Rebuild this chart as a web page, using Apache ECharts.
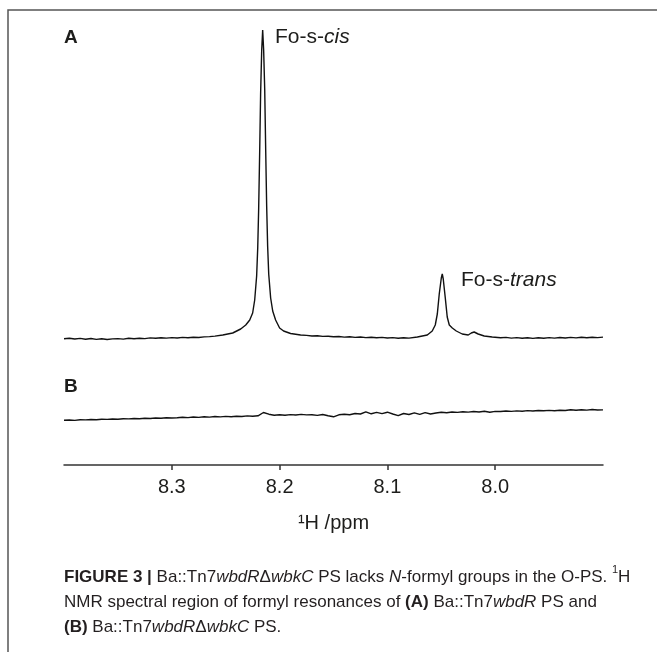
<!DOCTYPE html>
<html>
<head>
<meta charset="utf-8">
<script src="https://cdn.jsdelivr.net/npm/echarts@6/dist/echarts.min.js"></script>
<style>
  html, body { margin: 0; padding: 0; background: #fff; }
  #nmrChart { width: 657px; height: 652px; }
</style>
</head>
<body>
<div id="nmrChart"></div>
<script>
// tick labels of the ppm axis
var ppmTicks = [8.4, 8.3, 8.2, 8.1, 8.0, 7.9];

// spectrum A (Ba::Tn7wbdR PS): [ppm, intensity]
var spectrumA = [
  [8.400, -0.8], [8.395, -0.2], [8.390, -1.0], [8.385, -0.4], [8.380, -1.2],
  [8.375, -0.5], [8.370, -1.4], [8.365, -0.8], [8.360, -1.5], [8.355, -0.9],
  [8.350, -0.6], [8.345, -1.1], [8.340, -0.3], [8.335, -0.8], [8.330, -0.2],
  [8.325, -0.6], [8.320, 0.1], [8.315, -0.3], [8.310, 0.3], [8.305, -0.1],
  [8.300, 0.4], [8.295, 0.0], [8.290, 0.6], [8.285, 0.2], [8.280, 0.8],
  [8.275, 0.5], [8.270, 1.1], [8.265, 1.4], [8.260, 1.9],
  // Fo-s-cis
  [8.2527, 3], [8.2435, 5], [8.2361, 9], [8.2314, 13], [8.2277, 18],
  [8.2250, 25], [8.2231, 38], [8.2213, 62], [8.2203, 90], [8.2194, 130],
  [8.2185, 185], [8.2176, 245], [8.2166, 288], [8.2157, 308], [8.2148, 288],
  [8.2138, 248], [8.2129, 188], [8.2120, 132], [8.2111, 92], [8.2101, 64],
  [8.2083, 40], [8.2064, 27], [8.2037, 18], [8.2000, 10], [8.1963, 7],
  [8.1898, 4.5], [8.1805, 3],
  [8.175, 2.6], [8.170, 2.0], [8.165, 2.3], [8.160, 1.6], [8.155, 1.8],
  [8.150, 1.2], [8.145, 1.5], [8.140, 0.9], [8.135, 1.2], [8.130, 0.6],
  [8.125, 1.0], [8.120, 0.4], [8.115, 0.8], [8.110, 0.2], [8.105, 0.6],
  [8.100, 0.0], [8.095, 0.4], [8.090, -0.2], [8.085, 0.3], [8.080, -0.1],
  // Fo-s-trans
  [8.0722, 1], [8.0630, 3], [8.0584, 7], [8.0556, 13], [8.0537, 24],
  [8.0519, 44], [8.0500, 60], [8.0491, 64], [8.0482, 59], [8.0463, 40],
  [8.0445, 21], [8.0426, 13], [8.0398, 10], [8.0361, 7], [8.0306, 4],
  [8.0250, 3], [8.0222, 5], [8.0195, 6], [8.0158, 4], [8.0102, 2],
  [8.0028, 1],
  [7.995, 0.2], [7.990, 0.6], [7.985, -0.1], [7.980, 0.4], [7.975, -0.3],
  [7.970, 0.2], [7.965, -0.4], [7.960, 0.3], [7.955, -0.2], [7.950, 0.4],
  [7.945, -0.1], [7.940, 0.5], [7.935, 0.0], [7.930, 0.6], [7.925, 0.1],
  [7.920, 0.7], [7.915, 0.2], [7.910, 0.8], [7.905, 0.4], [7.900, 0.9]
];

// spectrum B (Ba::Tn7wbdRΔwbkC PS): [ppm, intensity]
var spectrumB = [
  [8.400, -5.2], [8.395, -5.0], [8.390, -5.4], [8.385, -4.8], [8.380, -4.9],
  [8.375, -4.5], [8.370, -4.7], [8.365, -4.2], [8.360, -4.4], [8.355, -4.0],
  [8.350, -4.3], [8.345, -3.8], [8.340, -3.9], [8.335, -3.5], [8.330, -3.7],
  [8.325, -3.2], [8.320, -3.5], [8.315, -3.0], [8.310, -3.3], [8.305, -2.8],
  [8.300, -3.0], [8.295, -2.7], [8.290, -2.2], [8.285, -2.6], [8.280, -2.0],
  [8.275, -2.4], [8.270, -1.8], [8.265, -2.1], [8.260, -1.5], [8.255, -1.9],
  [8.250, -1.4], [8.245, -1.7], [8.240, -1.2], [8.235, -1.5], [8.230, -0.9],
  [8.225, -1.3], [8.220, -0.8], [8.215, 2.5], [8.210, 0.8], [8.205, -0.2],
  [8.200, 0.3], [8.195, -0.3], [8.190, 0.4], [8.185, 0.0], [8.180, 0.6],
  [8.175, 0.1], [8.170, 0.3], [8.165, -0.4], [8.160, 0.5], [8.155, -0.8],
  [8.150, -1.8], [8.145, 0.2], [8.140, 0.8], [8.135, 0.3], [8.130, 1.5],
  [8.125, 1.0], [8.120, 3.2], [8.115, 1.2], [8.110, 2.6], [8.105, 1.4],
  [8.100, 2.8], [8.095, 1.0], [8.090, -0.6], [8.085, 1.5], [8.080, 0.5],
  [8.075, 2.2], [8.070, 0.6], [8.065, 2.4], [8.060, 1.0], [8.055, 2.0],
  [8.050, 2.8], [8.045, 2.2], [8.040, 3.0], [8.035, 2.6], [8.030, 3.2],
  [8.025, 2.9], [8.020, 3.5], [8.015, 3.0], [8.010, 3.8], [8.005, 2.8],
  [8.000, 3.6], [7.995, 3.5], [7.990, 4.0], [7.985, 3.6], [7.980, 4.1],
  [7.975, 3.8], [7.970, 4.4], [7.965, 4.0], [7.960, 4.5], [7.955, 4.2],
  [7.950, 4.6], [7.945, 4.3], [7.940, 4.8], [7.935, 4.5], [7.930, 5.2],
  [7.925, 4.7], [7.920, 5.3], [7.915, 4.9], [7.910, 5.5], [7.905, 5.0],
  [7.900, 5.1]
];

var peakLabels = ['Fo-s-', 'cis', 'trans'];

var FONT = '"Liberation Sans", Arial, sans-serif';
var INK = '#1d1d1b';

var chart = echarts.init(document.getElementById('nmrChart'));

var xBase = {
  type: 'value',
  min: ppmTicks[ppmTicks.length - 1],
  max: ppmTicks[0],
  interval: 0.1,
  inverse: true,
  splitLine: { show: false }
};

var peakRich = {
  n: { fontSize: 21, fontFamily: FONT, fill: INK },
  i: { fontSize: 21, fontFamily: FONT, fontStyle: 'italic', fill: INK }
};

chart.setOption({
  backgroundColor: '#fff',
  animation: false,
  grid: [
    { left: 64, right: 54, top: 18, height: 330 },
    { left: 64, right: 54, top: 380, height: 85 }
  ],
  xAxis: [
    Object.assign({}, xBase, { gridIndex: 0, show: false }),
    Object.assign({}, xBase, {
      gridIndex: 1,
      axisLine: { onZero: false, lineStyle: { color: '#333', width: 1.5 } },
      axisTick: { length: 5, lineStyle: { color: '#333', width: 1.5 } },
      axisLabel: {
        fontSize: 20, fontFamily: FONT, color: INK, margin: 12,
        showMinLabel: false, showMaxLabel: false,
        formatter: function (v) { return v.toFixed(1); }
      },
      name: '\u00B9H /ppm',
      nameLocation: 'middle',
      nameGap: 48,
      nameTextStyle: { fontSize: 20, fontFamily: FONT, color: INK }
    })
  ],
  yAxis: [
    { type: 'value', gridIndex: 0, min: -10, max: 320, show: false, splitLine: { show: false } },
    { type: 'value', gridIndex: 1, min: -50, max: 35, show: false, splitLine: { show: false } }
  ],
  series: [
    {
      name: 'A', type: 'line', xAxisIndex: 0, yAxisIndex: 0,
      data: spectrumA, showSymbol: false, symbol: 'none', clip: false,
      lineStyle: { color: '#111', width: 1.4 }
    },
    {
      name: 'B', type: 'line', xAxisIndex: 1, yAxisIndex: 1,
      data: spectrumB, showSymbol: false, symbol: 'none', clip: false,
      lineStyle: { color: '#111', width: 1.4 }
    }
  ],
  graphic: [
    // figure frame
    {
      type: 'polyline', silent: true,
      shape: { points: [[8, 652], [8, 10], [657, 10]] },
      style: { stroke: '#555', lineWidth: 1.5, fill: null }
    },
    {
      type: 'text', x: 64, y: 38,
      style: { text: 'A', fontSize: 19, fontWeight: 'bold', fontFamily: FONT, fill: INK, verticalAlign: 'middle' }
    },
    {
      type: 'text', x: 64, y: 387,
      style: { text: 'B', fontSize: 19, fontWeight: 'bold', fontFamily: FONT, fill: INK, verticalAlign: 'middle' }
    },
    {
      type: 'text', x: 275, y: 37,
      style: {
        text: '{n|' + peakLabels[0] + '}{i|' + peakLabels[1] + '}',
        verticalAlign: 'middle', rich: peakRich
      }
    },
    {
      type: 'text', x: 461, y: 280,
      style: {
        text: '{n|' + peakLabels[0] + '}{i|' + peakLabels[2] + '}',
        verticalAlign: 'middle', rich: peakRich
      }
    },
    // caption
    {
      type: 'text', x: 64, y: 602,
      style: {
        text: '{b|FIGURE 3 |} Ba::Tn7{i|wbdR}\u0394{i|wbkC} PS lacks {i|N}-formyl groups in the O-PS. {s|1}H\n' +
              'NMR spectral region of formyl resonances of {b|(A)} Ba::Tn7{i|wbdR} PS and\n' +
              '{b|(B)} Ba::Tn7{i|wbdR}\u0394{i|wbkC} PS.',
        fontSize: 17, fontFamily: FONT, fill: '#231f20', lineHeight: 25,
        verticalAlign: 'middle',
        rich: {
          b: { fontSize: 17, fontFamily: FONT, fontWeight: 'bold', fill: '#231f20', lineHeight: 25 },
          i: { fontSize: 17, fontFamily: FONT, fontStyle: 'italic', fill: '#231f20', lineHeight: 25 },
          s: { fontSize: 11, fontFamily: FONT, fill: '#231f20', lineHeight: 25, verticalAlign: 'top' }
        }
      }
    }
  ]
});
</script>
</body>
</html>
